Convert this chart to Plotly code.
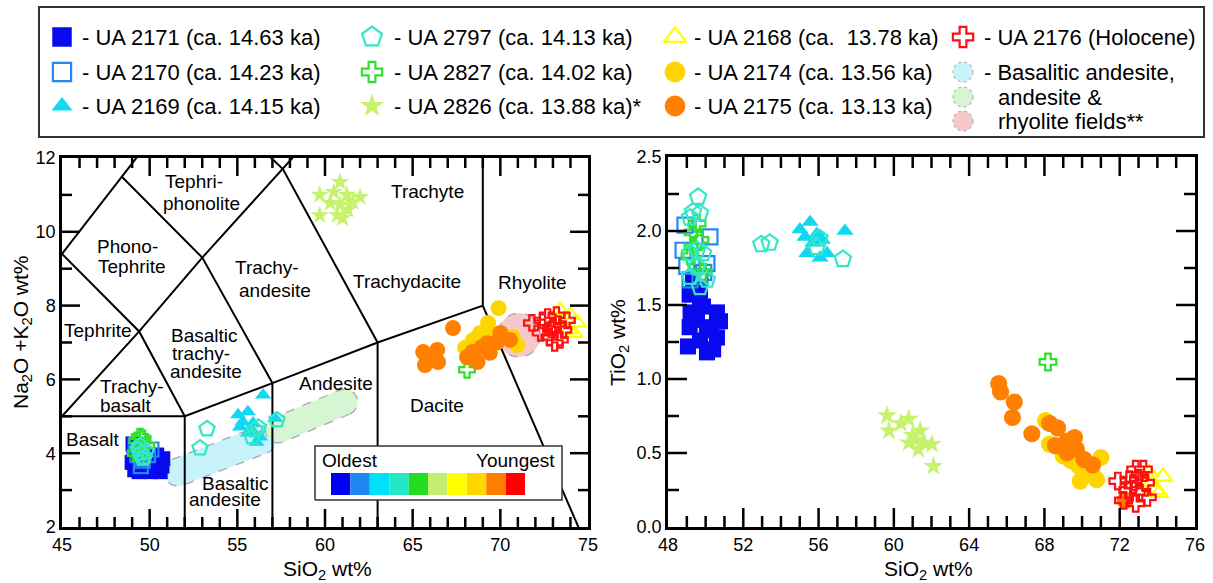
import numpy as np
import plotly.graph_objects as go

W, H = 1213, 583
FONT = "Liberation Sans, Arial, Helvetica, sans-serif"

# ---------------- data: TAS diagram (SiO2 vs Na2O+K2O) ----------------
tas_2171_si = [49.05, 49.1, 49.0, 49.15, 49.4, 49.7, 50.05, 50.3, 50.6, 50.7, 50.75, 50.4, 50.1, 49.8, 50.2, 50.5, 49.3]
tas_2171_alk = [4.25, 4.0, 3.75, 3.55, 3.5, 3.55, 3.5, 3.55, 3.5, 3.65, 3.85, 3.95, 3.9, 3.75, 3.7, 3.75, 3.6]
tas_2170_si = [49.3, 49.6, 49.9, 49.5, 50.1, 49.2]
tas_2170_alk = [3.95, 3.8, 3.95, 3.65, 4.1, 4.2]
tas_2169_si = [56.47, 55.04, 55.6, 55.3, 55.9, 55.6, 56.3, 56.1, 57.15, 55.15, 55.8]
tas_2169_alk = [5.58, 5.04, 5.12, 4.85, 4.82, 4.55, 4.44, 4.3, 4.95, 4.71, 4.65]
tas_2797_si = [53.27, 52.87, 56.0, 55.85, 57.26, 56.2, 49.5, 49.7, 49.35, 49.8, 49.6, 49.45]
tas_2797_alk = [4.66, 4.14, 4.63, 4.44, 4.9, 4.7, 4.0, 3.9, 4.1, 4.05, 3.85, 4.2]
tas_2827_si = [49.3, 49.6, 49.4, 49.2, 49.5, 49.8, 49.45, 68.1]
tas_2827_alk = [4.35, 4.4, 4.15, 4.0, 3.9, 4.2, 4.45, 6.26]
tas_2826_si = [60.86, 59.7, 60.3, 59.7, 60.7, 61.0, 61.6, 62.0, 61.25, 60.5, 60.86, 61.3]
tas_2826_alk = [11.35, 11.0, 10.78, 10.45, 10.45, 10.37, 10.8, 10.94, 11.0, 11.08, 10.73, 10.6]
tas_2168_si = [73.4, 74.0, 74.4, 73.9, 73.2, 74.2]
tas_2168_alk = [7.88, 7.74, 7.53, 7.34, 7.6, 7.25]
tas_2174_si = [69.9, 69.3, 68.85, 68.0, 70.96, 68.45, 70.7, 69.6]
tas_2174_alk = [7.93, 7.53, 7.26, 6.86, 6.93, 7.07, 7.15, 7.2]
tas_2175_si = [67.3, 65.6, 66.4, 65.7, 66.45, 68.4, 68.7, 69.25, 70.0, 70.55, 69.4, 68.1, 68.96, 66.0, 69.8]
tas_2175_alk = [7.39, 6.74, 6.8, 6.39, 6.47, 6.74, 6.47, 6.98, 7.26, 7.07, 6.72, 6.6, 6.88, 6.6, 7.0]
tas_2176_si = [71.8, 72.4, 73.0, 73.6, 72.8, 73.4, 72.7, 73.2, 72.3, 73.8, 73.1, 72.9, 73.3]
tas_2176_alk = [7.53, 7.6, 7.42, 7.34, 7.15, 7.07, 7.69, 7.74, 7.26, 7.6, 6.99, 7.35, 7.5]

# ---------------- data: SiO2 vs TiO2 ----------------
ti_2171_si = [49.15, 49.15, 49.06, 49.7, 50.07, 50.4, 50.6, 50.76, 50.6, 49.86, 49.7, 49.54, 50.07, 49.7, 49.33, 49.2, 50.3]
ti_2171_ti = [1.57, 1.35, 1.22, 1.26, 1.18, 1.2, 1.28, 1.39, 1.45, 1.49, 1.53, 1.4, 1.33, 1.6, 1.65, 1.45, 1.35]
ti_2170_si = [48.9, 50.23, 49.0, 49.17, 50.07, 48.8, 49.7, 49.9]
ti_2170_ti = [2.04, 1.96, 1.76, 1.67, 1.78, 1.87, 1.69, 1.72]
ti_2169_si = [55.01, 55.55, 55.28, 55.7, 55.38, 56.08, 56.45, 57.4, 55.9, 56.2]
ti_2169_ti = [2.01, 2.06, 1.96, 1.92, 1.85, 1.82, 1.85, 2.0, 1.98, 1.94]
ti_2797_si = [49.6, 49.33, 49.7, 49.17, 49.54, 49.17, 49.86, 49.54, 49.17, 49.7, 50.07, 52.96, 53.4, 56.05, 55.9, 57.29]
ti_2797_ti = [2.23, 2.13, 2.12, 2.09, 1.87, 1.85, 1.85, 1.76, 1.69, 1.62, 1.67, 1.91, 1.92, 1.95, 1.89, 1.81]
ti_2827_si = [49.54, 49.33, 49.7, 49.17, 49.54, 49.86, 49.33, 68.19]
ti_2827_ti = [2.05, 1.99, 1.94, 1.83, 1.76, 1.72, 1.89, 1.115]
ti_2826_si = [59.64, 60.79, 59.74, 60.37, 61.0, 61.4, 60.79, 61.3, 62.03, 61.6, 62.1, 61.2]
ti_2826_ti = [0.753, 0.73, 0.65, 0.70, 0.62, 0.65, 0.57, 0.525, 0.56, 0.57, 0.41, 0.59]
ti_2168_si = [74.3, 73.9, 73.57, 74.1, 73.7]
ti_2168_ti = [0.34, 0.25, 0.365, 0.23, 0.3]
ti_2174_si = [68.06, 68.27, 69.0, 69.83, 69.9, 70.77, 71.0, 70.56, 69.4]
ti_2174_ti = [0.72, 0.56, 0.48, 0.41, 0.31, 0.32, 0.47, 0.354, 0.45]
ti_2175_si = [65.57, 65.67, 66.4, 66.3, 67.33, 68.27, 68.7, 68.58, 69.2, 69.6, 69.7, 70.1, 70.56, 69.2, 72.3]
ti_2175_ti = [0.97, 0.913, 0.845, 0.74, 0.63, 0.70, 0.67, 0.55, 0.50, 0.605, 0.525, 0.457, 0.42, 0.58, 0.18]
ti_2176_si = [71.9, 73.26, 72.85, 72.43, 73.05, 72.85, 73.37, 72.5, 73.47, 72.2, 72.7, 73.0]
ti_2176_ti = [0.31, 0.39, 0.39, 0.25, 0.23, 0.16, 0.30, 0.32, 0.2, 0.18, 0.28, 0.33]

legend_labels = ["- UA 2171 (ca. 14.63 ka)", "- UA 2170 (ca. 14.23 ka)", "- UA 2169 (ca. 14.15 ka)",
                 "- UA 2797 (ca. 14.13 ka)", "- UA 2827 (ca. 14.02 ka)", "- UA 2826 (ca. 13.88 ka)*",
                 "- UA 2168 (ca.  13.78 ka)", "- UA 2174 (ca. 13.56 ka)", "- UA 2175 (ca. 13.13 ka)",
                 "- UA 2176 (Holocene)"]
field_legend_lines = ["- Basalitic andesite,", "andesite &", "rhyolite fields**"]

# TAS classification boundaries (Le Bas et al.)
TAS_LINES = [
    [(45, 5), (52, 5)],
    [(52, 2), (52, 5), (57, 5.9), (63, 7), (69, 8)],
    [(57, 2), (57, 5.9)],
    [(63, 2), (63, 7)],
    [(69, 8), (69, 12)],
    [(69, 8), (74.45, 2)],
    [(45, 5), (49.4, 7.3), (53, 9.3), (57.6, 11.7), (61, 13.5)],
    [(45, 9.4), (49.4, 7.3), (52, 5)],
    [(45, 9.4), (48.4, 11.5), (52.5, 14)],
    [(48.4, 11.5), (53, 9.3), (57, 5.9)],
    [(52.5, 14), (57.6, 11.7), (63, 7)],
]
TAS_LABELS = [
    ("Tephri-", 52.53, 11.36), ("phonolite", 52.98, 10.78),
    ("Phono-", 48.71, 9.6), ("Tephrite", 49.02, 9.05),
    ("Trachy-", 56.7, 9.02), ("andesite", 57.15, 8.42),
    ("Tephrite", 47.07, 7.32),
    ("Basaltic", 53.1, 7.2), ("trachy-", 52.93, 6.71), ("andesite", 53.2, 6.21),
    ("Trachy-", 49.02, 5.8), ("basalt", 48.6, 5.28),
    ("Basalt", 46.77, 4.36),
    ("Basaltic", 54.87, 3.18), ("andesite", 54.3, 2.75),
    ("Andesite", 60.6, 5.89), ("Dacite", 66.39, 5.28),
    ("Trachydacite", 64.68, 8.65), ("Trachyte", 65.82, 11.09), ("Rhyolite", 71.86, 8.62),
]
# literature fields: centre (SiO2, alk), half length px, radius px, angle deg
FIELDS = [
    (54.01, 3.924, 59, 14, 21, "#C9F3FA"),
    (59.23, 5.008, 49, 13, 22.7, "#D6F5D2"),
    (71.07, 7.20, 22, 21, 90, "#F6C8CA"),
]
RAMP_COLORS = ["#0000F0", "#1E88F0", "#00E0F8", "#22E8C8", "#22DD22",
               "#C4EE72", "#FFFF00", "#FFD700", "#FF8000", "#FF0000"]

# styles per series: (symbol, colour, size, open)
STY = {
    "2171": ("square", "#0A0AF0", 15, False),
    "2170": ("square-open", "#2288EE", 14, True),
    "2169": ("triangle-up", "#10D8F2", 14, False),
    "2797": ("pentagon-open", "#33E6C6", 16, True),
    "2827": ("cross-open", "#2EE02E", 13, True),
    "2826": ("star", "#C6F26E", 14, False),
    "2168": ("triangle-up-open", "#FFFF00", 15, True),
    "2174": ("circle", "#FFD500", 16, False),
    "2175": ("circle", "#FF8000", 16, False),
    "2176": ("cross-open", "#FF1010", 13, True),
}
LEG_ORDER = ["2171", "2170", "2169", "2797", "2827", "2826", "2168", "2174", "2175", "2176"]
DRAW_ORDER = ["2171", "2170", "2169", "2827", "2797", "2826", "2168", "2174", "2175", "2176"]
TAS = {"2171": (tas_2171_si, tas_2171_alk), "2170": (tas_2170_si, tas_2170_alk),
       "2169": (tas_2169_si, tas_2169_alk), "2797": (tas_2797_si, tas_2797_alk),
       "2827": (tas_2827_si, tas_2827_alk), "2826": (tas_2826_si, tas_2826_alk),
       "2168": (tas_2168_si, tas_2168_alk), "2174": (tas_2174_si, tas_2174_alk),
       "2175": (tas_2175_si, tas_2175_alk), "2176": (tas_2176_si, tas_2176_alk)}
TIO = {"2171": (ti_2171_si, ti_2171_ti), "2170": (ti_2170_si, ti_2170_ti),
       "2169": (ti_2169_si, ti_2169_ti), "2797": (ti_2797_si, ti_2797_ti),
       "2827": (ti_2827_si, ti_2827_ti), "2826": (ti_2826_si, ti_2826_ti),
       "2168": (ti_2168_si, ti_2168_ti), "2174": (ti_2174_si, ti_2174_ti),
       "2175": (ti_2175_si, ti_2175_ti), "2176": (ti_2176_si, ti_2176_ti)}

# ---------------- layout geometry (pixels) ----------------
L_X = (62, 588); L_Y = (158, 527)
R_X = (668, 1195); R_Y = (157, 527)
LEG_X = (40, 1203); LEG_Y = (8, 136)
CB_X = (315, 562); CB_Y = (446, 500)          # age box
RAMP_X = (331, 525); RAMP_Y = (473, 495)      # colour blocks inside it
L_RANGE_X, L_RANGE_Y = (45, 75), (2, 12)
R_RANGE_X, R_RANGE_Y = (48, 76), (0, 2.5)
XPX = (L_X[1] - L_X[0]) / (L_RANGE_X[1] - L_RANGE_X[0])
YPX = (L_Y[1] - L_Y[0]) / (L_RANGE_Y[1] - L_RANGE_Y[0])


def dom_x(p):
    return [p[0] / W, p[1] / W]


def dom_y(p):
    return [1 - p[1] / H, 1 - p[0] / H]


def px2x(px):  # pixel -> SiO2 on the TAS axes
    return L_RANGE_X[0] + (px - L_X[0]) / XPX


def px2y(py):  # pixel -> alkali on the TAS axes
    return L_RANGE_Y[1] - (py - L_Y[0]) / YPX


def marker(key, scale=1.0):
    sym, col, size, op = STY[key]
    return dict(symbol=sym, color=col, size=size * scale,
                line=dict(color=col, width=2.2 if op else 0))


def stadium(cx, cy, half_len, rad, ang, n=50):
    th = np.radians(ang)
    Ls = max(half_len - rad, 0)
    t1 = np.linspace(-np.pi / 2, np.pi / 2, n)
    t2 = np.linspace(np.pi / 2, 3 * np.pi / 2, n)
    u = np.concatenate([Ls + rad * np.cos(t1), -Ls + rad * np.cos(t2)])
    v = np.concatenate([rad * np.sin(t1), rad * np.sin(t2)])
    px = u * np.cos(th) - v * np.sin(th)
    py = u * np.sin(th) + v * np.cos(th)
    x = cx + px / XPX
    y = cy + py / YPX
    return np.append(x, x[0]), np.append(y, y[0])


def tick_shapes(PX, PY, rx, ry, xstep, xminor, ystep, yminor, major_len, minor_len):
    """Inside tick marks on all four sides (paper coords), derived from axis range and steps."""
    out = []
    st = dict(type="line", xref="paper", yref="paper", layer="above",
              line=dict(color="black", width=2.5))
    sx = (PX[1] - PX[0]) / (rx[1] - rx[0])
    sy = (PY[1] - PY[0]) / (ry[1] - ry[0])
    nx = int(round((rx[1] - rx[0]) / xminor))
    for k in range(1, nx):
        v = rx[0] + k * xminor
        q = (v - rx[0]) / xstep
        ln = major_len if abs(q - round(q)) < 1e-6 else minor_len
        xp = (PX[0] + (v - rx[0]) * sx) / W
        out.append(dict(st, x0=xp, x1=xp, y0=1 - PY[1] / H, y1=1 - (PY[1] - ln) / H))
        out.append(dict(st, x0=xp, x1=xp, y0=1 - PY[0] / H, y1=1 - (PY[0] + ln) / H))
    ny = int(round((ry[1] - ry[0]) / yminor))
    for k in range(1, ny):
        v = ry[0] + k * yminor
        q = (v - ry[0]) / ystep
        ln = major_len if abs(q - round(q)) < 1e-6 else minor_len
        yp = 1 - (PY[1] - (v - ry[0]) * sy) / H
        out.append(dict(st, x0=PX[0] / W, x1=(PX[0] + ln) / W, y0=yp, y1=yp))
        out.append(dict(st, x0=PX[1] / W, x1=(PX[1] - ln) / W, y0=yp, y1=yp))
    return out


fig = go.Figure()

# literature fields
for cx, cy, hl, rd, ang, col in FIELDS:
    fx, fy = stadium(cx, cy, hl, rd, ang)
    fig.add_trace(go.Scatter(x=fx, y=fy, mode="lines", fill="toself", fillcolor=col,
                             line=dict(color="#A9A9A9", width=1.3, dash="dash"),
                             hoverinfo="skip", showlegend=False, xaxis="x", yaxis="y"))
# TAS boundary lines
for seg in TAS_LINES:
    fig.add_trace(go.Scatter(x=[p[0] for p in seg], y=[p[1] for p in seg], mode="lines",
                             line=dict(color="black", width=2), hoverinfo="skip",
                             showlegend=False, xaxis="x", yaxis="y"))

# age box (white, masks the field lines) with colour ramp
bx = [px2x(CB_X[0]), px2x(CB_X[1]), px2x(CB_X[1]), px2x(CB_X[0]), px2x(CB_X[0])]
by = [px2y(CB_Y[1]), px2y(CB_Y[1]), px2y(CB_Y[0]), px2y(CB_Y[0]), px2y(CB_Y[1])]
fig.add_trace(go.Scatter(x=bx, y=by, mode="lines", fill="toself", fillcolor="white",
                         line=dict(color="#333333", width=1.5), hoverinfo="skip",
                         showlegend=False, xaxis="x", yaxis="y"))
step = (RAMP_X[1] - RAMP_X[0]) / len(RAMP_COLORS)
yc = px2y((RAMP_Y[0] + RAMP_Y[1]) / 2)
for i, c in enumerate(RAMP_COLORS):
    fig.add_trace(go.Scatter(x=[px2x(RAMP_X[0] + i * step), px2x(RAMP_X[0] + (i + 1) * step)],
                             y=[yc, yc], mode="lines",
                             line=dict(color=c, width=RAMP_Y[1] - RAMP_Y[0]),
                             hoverinfo="skip", showlegend=False, xaxis="x", yaxis="y"))

# samples
for key in DRAW_ORDER:
    xs, ys = TAS[key]
    fig.add_trace(go.Scatter(x=xs, y=ys, mode="markers", marker=marker(key), name="UA " + key,
                             showlegend=False, xaxis="x", yaxis="y"))
for key in DRAW_ORDER:
    xs, ys = TIO[key]
    fig.add_trace(go.Scatter(x=xs, y=ys, mode="markers", marker=marker(key, 1.07), name="UA " + key,
                             showlegend=False, xaxis="x2", yaxis="y2"))

# ---------------- manual legend ----------------
col_mark = [62, 372, 675, 963]
col_text = [80, 392, 692, 982]
row_y = [37, 72, 106]


def lx(px):
    return (px - LEG_X[0]) / (LEG_X[1] - LEG_X[0])


def ly(py):
    return (LEG_Y[1] - py) / (LEG_Y[1] - LEG_Y[0])


annotations = []
for i, key in enumerate(LEG_ORDER):
    c, r = i // 3, i % 3
    fig.add_trace(go.Scatter(x=[lx(col_mark[c])], y=[ly(row_y[r])], mode="markers",
                             marker=marker(key, 1.3), hoverinfo="skip", showlegend=False,
                             xaxis="x3", yaxis="y3"))
    annotations.append(dict(x=lx(col_text[c]), y=ly(row_y[r]), xref="x3", yref="y3",
                            text=legend_labels[i], showarrow=False, xanchor="left",
                            yanchor="middle", font=dict(size=22, family=FONT, color="black")))
shapes = []
for j, (f, yy) in enumerate(zip(FIELDS, [72, 97, 121])):
    shapes.append(dict(type="circle", xref="x3", yref="y3", xsizemode="pixel", ysizemode="pixel",
                       xanchor=lx(963), yanchor=ly(yy), x0=-10, x1=10, y0=-10, y1=10,
                       fillcolor=f[5], line=dict(color="#B5B5B5", width=1.2, dash="dot"), layer="above"))
for j, (txt, yy) in enumerate(zip(field_legend_lines, [72, 97, 121])):
    annotations.append(dict(x=lx(982 if j == 0 else 996), y=ly(yy), xref="x3", yref="y3",
                            text=txt, showarrow=False, xanchor="left", yanchor="middle",
                            font=dict(size=22, family=FONT, color="black")))

# inside tick marks (mirrored on all four sides)
shapes += tick_shapes(L_X, L_Y, L_RANGE_X, L_RANGE_Y, 5, 1, 2, 1, 18, 10)
shapes += tick_shapes(R_X, R_Y, R_RANGE_X, R_RANGE_Y, 4, 1, 0.5, 0.25, 19, 11)

annotations.append(dict(x=px2x(320), y=px2y(460), xref="x", yref="y", text="Oldest", showarrow=False,
                        xanchor="left", yanchor="middle", font=dict(size=19, family=FONT, color="black")))
annotations.append(dict(x=px2x(557), y=px2y(460), xref="x", yref="y", text="Youngest", showarrow=False,
                        xanchor="right", yanchor="middle", font=dict(size=19, family=FONT, color="black")))

# field labels
for txt, x, y in TAS_LABELS:
    annotations.append(dict(x=x, y=y, xref="x", yref="y", text=txt, showarrow=False,
                            xanchor="center", yanchor="middle",
                            font=dict(size=19, family=FONT, color="black")))

# axis titles
tfont = dict(size=21, family=FONT, color="black")
annotations += [
    dict(x=327 / W, y=1 - 570 / H, xref="paper", yref="paper", text="SiO<sub>2</sub> wt%",
         showarrow=False, font=tfont, xanchor="center", yanchor="middle"),
    dict(x=928 / W, y=1 - 570 / H, xref="paper", yref="paper", text="SiO<sub>2</sub> wt%",
         showarrow=False, font=tfont, xanchor="center", yanchor="middle"),
    dict(x=22 / W, y=1 - 332 / H, xref="paper", yref="paper", text="Na<sub>2</sub>O +K<sub>2</sub>O wt%",
         showarrow=False, font=tfont, textangle=-90, xanchor="center", yanchor="middle"),
    dict(x=619 / W, y=1 - 343 / H, xref="paper", yref="paper", text="TiO<sub>2</sub> wt%",
         showarrow=False, font=tfont, textangle=-90, xanchor="center", yanchor="middle"),
]


def ax(domain, rng, dtick, anchor, fmt=None):
    d = dict(domain=domain, range=list(rng), dtick=dtick, anchor=anchor, ticks="",
             showline=True, linewidth=2.5, linecolor="black", mirror=True,
             showgrid=False, zeroline=False, automargin=False, fixedrange=True,
             tickfont=dict(size=18, family=FONT, color="black"))
    if fmt:
        d["tickformat"] = fmt
    return d


hidden = dict(range=[0, 1], showgrid=False, zeroline=False, showticklabels=False, ticks="",
              fixedrange=True, automargin=False)

fig.update_layout(
    width=W, height=H, margin=dict(l=0, r=0, t=0, b=0, pad=0),
    paper_bgcolor="white", plot_bgcolor="white", showlegend=False,
    font=dict(family=FONT, color="black"),
    xaxis=ax(dom_x(L_X), L_RANGE_X, 5, "y"),
    yaxis=ax(dom_y(L_Y), L_RANGE_Y, 2, "x"),
    xaxis2=ax(dom_x(R_X), R_RANGE_X, 4, "y2"),
    yaxis2=ax(dom_y(R_Y), R_RANGE_Y, 0.5, "x2", fmt=".1f"),
    xaxis3=dict(domain=dom_x(LEG_X), anchor="y3", showline=True, mirror=True, linecolor="#333333",
                linewidth=1.5, **hidden),
    yaxis3=dict(domain=dom_y(LEG_Y), anchor="x3", showline=True, mirror=True, linecolor="#333333",
                linewidth=1.5, **hidden),
    annotations=annotations, shapes=shapes,
)

fig.write_html("out.html", config={"displayModeBar": False},
               post_script="document.body.style.margin='0';document.body.style.overflow='hidden';")
